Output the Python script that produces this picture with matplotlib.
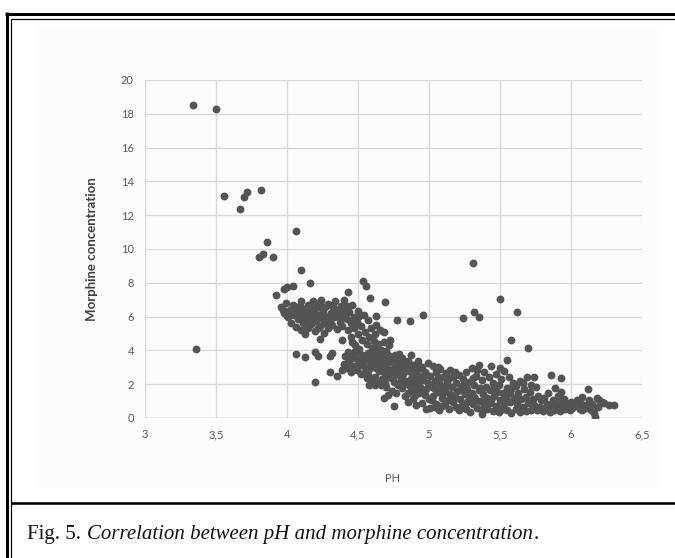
import matplotlib
matplotlib.use("Agg")
import matplotlib.pyplot as plt
from matplotlib.lines import Line2D
from matplotlib.patches import Rectangle

# ---------------- data ----------------
x_ticks = [3, 3.5, 4, 4.5, 5, 5.5, 6, 6.5]
x_tick_labels = ["3", "3,5", "4", "4,5", "5", "5,5", "6", "6,5"]
y_ticks = [0, 2, 4, 6, 8, 10, 12, 14, 16, 18, 20]
y_tick_labels = [str(v) for v in y_ticks]

# isolated / clearly readable points
ph_single = [3.34, 3.50, 3.36, 3.556, 3.67, 3.70, 3.716, 3.815, 4.063, 3.857, 3.833, 3.80, 3.90,
             4.099, 3.998, 4.04, 3.98, 4.162, 3.92, 4.43, 4.533, 4.556, 4.585, 4.498, 4.237, 4.404,
             4.69, 4.777, 4.866, 4.96, 4.63, 4.63, 4.655, 4.68, 4.725, 4.23, 4.385, 4.06, 4.127,
             4.20, 4.22, 4.30, 4.315, 4.30, 4.354, 4.385, 4.20, 4.58, 4.62, 4.66, 4.68, 4.75, 4.98,
             5.04, 5.09, 5.31, 5.50, 5.24, 5.32, 5.35, 4.63, 5.55, 5.62, 5.58, 5.70, 5.74, 5.86,
             5.93, 5.89, 5.93, 6.12, 6.075, 6.18, 6.23, 6.30, 6.16, 6.17, 5.37]
conc_single = [18.55, 18.27, 4.10, 13.12, 12.38, 13.06, 13.37, 13.51, 11.08, 10.41, 9.70, 9.55, 9.55,
               8.76, 7.77, 7.81, 7.61, 7.97, 7.28, 7.47, 8.12, 7.81, 7.08, 6.35, 6.98, 6.98,
               6.88, 5.80, 5.74, 6.09, 6.04, 5.50, 5.21, 5.10, 4.62, 4.66, 4.62, 3.79, 3.59,
               3.92, 3.67, 3.67, 3.85, 2.74, 2.49, 2.84, 2.11, 1.95, 1.95, 1.95, 1.20, 0.71, 0.53,
               0.67, 0.71, 9.15, 7.02, 5.90, 6.25, 5.99, 4.02, 3.43, 6.29, 4.62, 4.12, 2.41, 2.54,
               2.35, 1.79, 1.56, 1.70, 1.26, 1.17, 0.87, 0.77, 0.28, 0.08, 0.24]

# upper-left dense cluster (pH ~4.0-4.5)
ph_cluster_a = [3.96, 3.98, 3.99, 4.01, 4.02, 4.03, 4.04, 4.05, 4.06, 4.07, 4.08, 4.09, 4.10, 4.10, 4.11,
                4.12, 4.13, 4.13, 4.14, 4.15, 4.15, 4.16, 4.17, 4.18, 4.18, 4.19, 4.20, 4.20, 4.21, 4.22,
                4.23, 4.23, 4.24, 4.25, 4.26, 4.26, 4.27, 4.28, 4.29, 4.29, 4.30, 4.31, 4.32, 4.33, 4.33,
                4.34, 4.35, 4.36, 4.37, 4.38, 4.39, 4.40, 4.41, 4.42, 4.43, 4.44, 4.45, 4.46, 4.47, 4.12,
                4.05, 4.17, 4.22, 4.27, 4.32, 4.37, 4.09, 4.19, 4.24, 4.14, 4.28, 4.35, 4.42, 4.00, 4.03,
                3.97, 4.11, 4.21, 4.31, 4.39,
                4.45, 4.47, 4.48, 4.49, 4.50, 4.51, 4.52, 4.53, 4.54, 4.55, 4.56, 4.57, 4.58, 4.59, 4.60,
                4.61, 4.62, 4.64, 4.66, 4.68, 4.70, 4.72, 4.50, 4.46]
conc_cluster_a = [6.55, 6.20, 6.80, 5.95, 6.40, 5.60, 6.70, 6.10, 5.40, 6.55, 5.85, 6.25, 5.20, 6.90, 5.65,
                  6.05, 6.45, 5.00, 5.80, 6.70, 5.35, 6.15, 5.55, 6.95, 5.95, 6.35, 5.15, 5.75, 6.60, 6.10,
                  5.45, 6.85, 5.90, 6.30, 5.60, 5.05, 6.55, 6.00, 5.30, 6.75, 5.80, 6.20, 5.50, 6.50, 5.95,
                  6.90, 5.25, 6.15, 5.70, 6.60, 5.45, 6.05, 6.40, 5.85, 5.20, 6.25, 5.60, 6.70, 5.95, 5.95,
                  6.35, 6.50, 5.30, 5.85, 6.65, 5.95, 6.60, 6.15, 6.50, 5.50, 5.55, 6.35, 6.60, 6.05, 6.25,
                  6.40, 6.15, 5.85, 5.95, 6.25,
                  4.80, 5.30, 4.30, 5.70, 4.95, 4.10, 5.45, 4.60, 6.10, 5.10, 4.35, 5.80, 4.80, 5.35, 4.15,
                  4.55, 4.95, 4.40, 4.05, 4.50, 3.95, 4.30, 5.95, 4.50]

# main descending band (pH ~4.4-6.3)
ph_band = [4.40, 4.41, 4.42, 4.43, 4.44, 4.45, 4.46, 4.47, 4.48, 4.49, 4.50, 4.51, 4.52, 4.53, 4.54,
           4.55, 4.56, 4.57, 4.58, 4.59, 4.60, 4.45, 4.50, 4.55, 4.58, 4.47, 4.52, 4.57, 4.43, 4.60,
           4.61, 4.61, 4.62, 4.63, 4.64, 4.64, 4.65, 4.66, 4.67, 4.67, 4.68, 4.69, 4.70, 4.70, 4.71,
           4.72, 4.72, 4.73, 4.74, 4.74, 4.75, 4.76, 4.76, 4.77, 4.78, 4.78, 4.79, 4.80, 4.80, 4.63,
           4.66, 4.69, 4.71, 4.73, 4.75, 4.77, 4.79, 4.62, 4.68, 4.74, 4.65, 4.70, 4.76, 4.71, 4.78,
           4.81, 4.81, 4.82, 4.83, 4.83, 4.84, 4.85, 4.85, 4.86, 4.87, 4.87, 4.88, 4.89, 4.89, 4.90,
           4.91, 4.91, 4.92, 4.93, 4.93, 4.94, 4.95, 4.95, 4.96, 4.97, 4.97, 4.98, 4.99, 4.99, 5.00,
           4.82, 4.84, 4.86, 4.88, 4.90, 4.92, 4.94, 4.96, 4.98, 4.83, 4.87, 4.91, 4.95, 4.85, 4.93,
           5.01, 5.01, 5.02, 5.03, 5.03, 5.04, 5.05, 5.05, 5.06, 5.07, 5.07, 5.08, 5.09, 5.09, 5.10,
           5.11, 5.11, 5.12, 5.13, 5.13, 5.14, 5.15, 5.15, 5.16, 5.17, 5.17, 5.18, 5.19, 5.19, 5.20,
           5.02, 5.04, 5.06, 5.08, 5.10, 5.12, 5.14, 5.16, 5.18, 5.06,
           5.21, 5.21, 5.22, 5.23, 5.23, 5.24, 5.25, 5.26, 5.26, 5.27, 5.28, 5.28, 5.29, 5.30, 5.30,
           5.31, 5.32, 5.32, 5.33, 5.34, 5.35, 5.35, 5.36, 5.37, 5.37, 5.38, 5.39, 5.39, 5.40, 5.22,
           5.25, 5.27, 5.29, 5.31, 5.33, 5.36, 5.38, 5.34,
           5.41, 5.41, 5.42, 5.43, 5.43, 5.44, 5.45, 5.45, 5.46, 5.47, 5.47, 5.48, 5.49, 5.49, 5.50,
           5.51, 5.51, 5.52, 5.53, 5.53, 5.54, 5.55, 5.55, 5.56, 5.57, 5.57, 5.58, 5.59, 5.60, 5.44,
           5.46, 5.50, 5.52, 5.58,
           5.61, 5.61, 5.62, 5.63, 5.64, 5.64, 5.65, 5.66, 5.67, 5.68, 5.68, 5.69, 5.70, 5.71, 5.72,
           5.73, 5.74, 5.75, 5.76, 5.77, 5.78, 5.79, 5.80, 5.62, 5.66, 5.72,
           5.81, 5.82, 5.83, 5.84, 5.85, 5.86, 5.87, 5.88, 5.89, 5.90, 5.91, 5.92, 5.94, 5.95, 5.96,
           5.97, 5.99, 6.00, 6.01, 6.03, 6.04, 5.93,
           6.06, 6.07, 6.08, 6.10, 6.11, 6.13, 6.14, 6.15, 6.19, 6.20, 6.22, 6.27]
conc_band = [3.20, 3.65, 2.95, 3.90, 3.40, 2.70, 3.75, 3.10, 3.55, 2.85, 3.95, 3.30, 2.60, 3.70, 3.05,
             3.45, 2.35, 3.85, 2.90, 3.25, 3.60, 3.05, 3.50, 2.75, 3.50, 3.90, 3.15, 2.55, 3.55, 2.20,
             3.00, 3.80, 2.45, 3.35, 2.05, 3.65, 2.80, 3.15, 3.90, 2.30, 3.50, 2.60, 3.05, 1.85, 3.75,
             2.40, 3.30, 2.85, 1.60, 3.60, 2.15, 3.10, 2.55, 3.45, 1.95, 2.90, 3.80, 2.30, 3.25, 2.95,
             3.50, 2.05, 2.70, 3.55, 2.95, 1.45, 2.65, 3.55, 2.75, 2.35, 3.45, 3.45, 3.70, 1.35, 3.15,
             1.75, 3.55, 2.60, 3.05, 1.30, 2.20, 3.40, 0.95, 2.80, 1.60, 3.70, 2.40, 1.10, 3.15, 2.00,
             2.70, 0.75, 3.35, 1.45, 2.45, 1.85, 3.00, 0.90, 2.25, 1.35, 2.75, 1.70, 3.25, 2.05, 1.15,
             2.05, 3.25, 1.95, 2.95, 1.35, 2.20, 2.95, 1.60, 2.55, 2.85, 2.30, 1.70, 2.50, 1.45, 3.05,
             2.50, 0.60, 1.85, 3.10, 1.30, 2.20, 0.85, 2.75, 1.55, 2.05, 0.45, 2.90, 1.20, 1.90, 2.45,
             0.80, 1.60, 2.65, 1.05, 2.15, 0.55, 1.40, 2.85, 1.85, 0.95, 2.40, 1.25, 0.65, 2.05, 1.60,
             1.05, 1.70, 2.40, 0.70, 1.45, 1.85, 2.35, 1.10, 2.70, 3.00,
             0.45, 2.55, 1.15, 1.90, 0.75, 2.30, 1.40, 0.55, 2.75, 1.70, 1.05, 2.15, 0.35, 1.50, 2.95,
             0.85, 1.95, 1.25, 2.50, 0.60, 1.65, 3.15, 1.00, 2.25, 0.45, 1.40, 2.70, 0.80, 1.85, 1.65,
             2.00, 0.95, 1.30, 2.35, 1.05, 1.75, 0.95, 2.85,
             0.55, 1.20, 2.45, 0.90, 1.65, 3.05, 0.40, 2.05, 1.30, 0.70, 2.60, 1.55, 0.35, 1.95, 1.05,
             2.30, 0.60, 1.45, 0.85, 2.80, 1.20, 0.45, 1.80, 2.40, 0.95, 1.50, 0.30, 2.10, 1.20, 1.05,
             1.75, 2.95, 0.55, 1.70,
             0.55, 1.90, 0.85, 1.45, 0.35, 2.20, 1.10, 0.65, 1.70, 0.40, 1.25, 2.45, 0.90, 1.55, 0.50,
             1.15, 0.75, 1.85, 0.45, 1.30, 0.65, 1.05, 0.40, 1.20, 2.05, 1.95,
             1.20, 0.55, 0.85, 1.50, 0.35, 0.70, 1.05, 0.45, 0.90, 0.60, 1.30, 0.40, 0.75, 1.10, 0.55,
             0.80, 0.45, 0.95, 0.60, 0.70, 1.05, 0.95,
             0.55, 0.85, 0.45, 0.75, 0.60, 1.05, 0.50, 0.80, 0.65, 1.05, 0.95, 0.75]

x_label = "PH"
y_label = "Morphine concentration"
caption_plain = "Fig. 5. "
caption_italic = "Correlation between pH and morphine concentration"
caption_end = "."

# ---------------- figure ----------------
W, H = 675, 558
fig = plt.figure(figsize=(W / 100, H / 100), dpi=100)
fig.patch.set_facecolor("white")


def fx(px):
    return px / W


def fy(py):
    return 1 - py / H


# faint chart-image background
fig.add_artist(Rectangle((fx(37), fy(488)), fx(658) - fx(37), fy(28) - fy(488),
                         transform=fig.transFigure, facecolor="#fcfcfc", edgecolor="none", zorder=0))

ax = fig.add_axes([fx(145), fy(418), fx(642) - fx(145), fy(80) - fy(418)])
ax.set_facecolor("none")
ax.set_xlim(3, 6.5)
ax.set_ylim(0, 20)
ax.set_xticks(x_ticks)
ax.set_xticklabels(x_tick_labels)
ax.set_yticks(y_ticks)
ax.set_yticklabels(y_tick_labels)
for s in ax.spines.values():
    s.set_visible(False)
ax.grid(True, color="#d9d9d9", linewidth=0.9)
ax.set_axisbelow(True)
ax.axhline(0, color="#bfbfbf", linewidth=1.0, zorder=1)
ax.tick_params(length=0, labelsize=8, labelcolor="#595959", pad=8)
for lab in ax.get_xticklabels() + ax.get_yticklabels():
    lab.set_fontfamily("Lato")

dot_color = "#545454"
for xs, ys in ((ph_single, conc_single), (ph_cluster_a, conc_cluster_a), (ph_band, conc_band)):
    ax.scatter(xs, ys, s=32, color=dot_color, linewidths=0, zorder=3)

fig.text(fx(92), fy(249), y_label, rotation=90, ha="center", va="center",
         fontsize=9.5, fontweight="bold", color="#404040", family="Lato")
fig.text(fx(393), fy(478), x_label, ha="center", va="center",
         fontsize=8, color="#595959", family="Lato")

# frame lines
def fline(x0, y0, x1, y1, lw_px):
    fig.add_artist(Line2D([fx(x0), fx(x1)], [fy(y0), fy(y1)], transform=fig.transFigure,
                          color="black", linewidth=lw_px * 0.72, solid_capstyle="butt"))

fline(6.5, 12, 6.5, H, 3)
fline(5, 13.5, W, 13.5, 3)
fline(11, 19, 11, H, 1.2)
fline(11, 19, W, 19, 1.2)
fline(11, 503, W, 503, 2.6)

# caption
r = fig.canvas.get_renderer()
base_y = fy(539)
cap_size = 15
t1 = fig.text(fx(27), base_y, caption_plain, fontsize=cap_size, family="Liberation Serif",
              va="baseline", color="#111111")
bb = t1.get_window_extent(r)
t2 = fig.text(bb.x1 / W + fx(1), base_y, caption_italic, fontsize=cap_size, family="Liberation Serif",
              style="italic", va="baseline", color="#111111")
bb2 = t2.get_window_extent(r)
fig.text(bb2.x1 / W, base_y, caption_end, fontsize=cap_size, family="Liberation Serif",
         va="baseline", color="#111111")

fig.savefig("out.png", dpi=100, facecolor="white")
